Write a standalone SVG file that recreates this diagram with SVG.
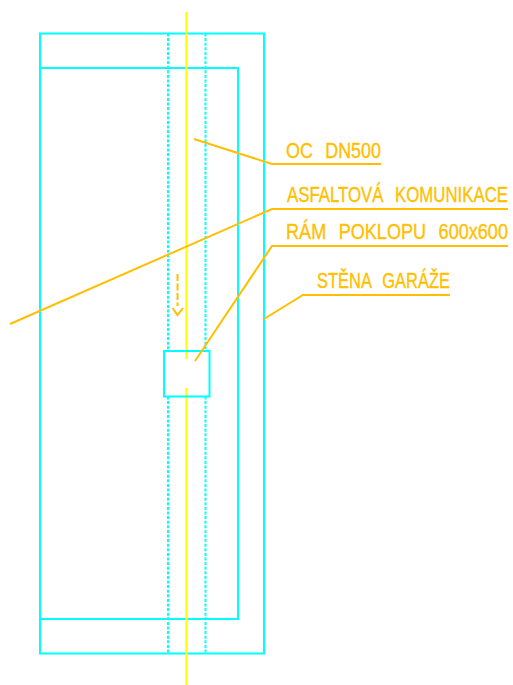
<svg xmlns="http://www.w3.org/2000/svg" width="513" height="685" viewBox="0 0 513 685">
<style>
.c{fill:none;stroke:#00FFFF;stroke-width:2}
.d{fill:none;stroke:#00FFFF;stroke-width:2;stroke-dasharray:3 1.600}
.y{fill:none;stroke:#FFFF00;stroke-width:2.200}
.o{fill:none;stroke:#FFBF00;stroke-width:2}
.t{fill:#FFBF00;stroke:#FFBF00;stroke-width:.3;font-family:"Liberation Sans",Arial,sans-serif;font-size:17px;word-spacing:7px}
</style>
<rect width="513" height="685" fill="#fff"/>
<g id="walls">
<rect class="c" x="40" y="33.500" width="224" height="620"/>
<rect class="c" x="40" y="68" width="198" height="551"/>
</g>
<g id="pipe">
<path class="d" d="M168 33.500V351M205.500 33.500V351M168 396.500V653.500M205.500 396.500V653.500"/>
<path class="y" d="M186.500 12V359M186.500 388V685"/>
</g>
<g id="frame"><rect class="c" x="164" y="351" width="45.500" height="45.500"/></g>
<g id="flow-arrow">
<path class="o" stroke-dasharray="7 2.500" d="M177.500 274V306"/>
<path class="o" d="M172.500 308L177.500 315L183 308"/>
</g>
<g id="connectors">
<path class="o" d="M194 139L272 164H381"/>
<path class="o" d="M10 324L272 209H508"/>
<path class="o" d="M195 361L272 246H508"/>
<path class="o" d="M264 319L303 295H450"/>
</g>
<g id="label-oc"><text class="t" transform="translate(286 157.500) scale(1 1.270)" textLength="95" lengthAdjust="spacingAndGlyphs">OC DN500</text></g>
<g id="label-asfalt"><text class="t" transform="translate(287 202) scale(1 1.270)" textLength="221" lengthAdjust="spacingAndGlyphs">ASFALTOVÁ KOMUNIKACE</text></g>
<g id="label-ram"><text class="t" transform="translate(286 239) scale(1 1.270)" textLength="222" lengthAdjust="spacingAndGlyphs">RÁM POKLOPU 600x600</text></g>
<g id="label-stena"><text class="t" transform="translate(317 288) scale(1 1.270)" textLength="133" lengthAdjust="spacingAndGlyphs">STĚNA GARÁŽE</text></g>
</svg>
